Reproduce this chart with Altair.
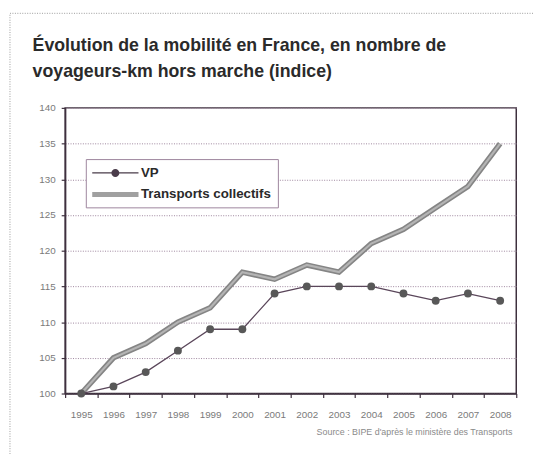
import altair as alt
import pandas as pd

years = list(range(1995, 2009))
vp = [100, 101, 103, 106, 109, 109, 114, 115, 115, 115, 114, 113, 114, 113]
tc = [100, 105, 107, 110, 112, 117, 116, 118, 117, 121, 123, 126, 129, 135]
series_names = ["VP", "Transports collectifs"]
y_ticks = [100, 105, 110, 115, 120, 125, 130, 135, 140]
title_lines = ["Évolution de la mobilité en France, en nombre de",
               "voyageurs-km hors marche (indice)"]
source_text = "Source : BIPE d'après le ministère des Transports"

rows = []
for y, a, b in zip(years, vp, tc):
    rows.append({"annee": y, "serie": series_names[0], "valeur": a})
    rows.append({"annee": y, "serie": series_names[1], "valeur": b})
df = pd.DataFrame(rows)

W, H = 458, 290
FONT = "Liberation Sans"
GRID = "#9c849c"
DARK = "#3e303e"

xscale = alt.Scale(domain=[years[0] - 0.5, years[-1] + 0.5], nice=False, zero=False)
yscale = alt.Scale(domain=[100, 140], nice=False, zero=False)

x_lab = alt.X("annee:Q", scale=xscale, title=None,
              axis=alt.Axis(orient="bottom", values=years, format="d", ticks=False, tickSize=0,
                            domain=False, grid=False, labelPadding=16, labelFontSize=10,
                            labelColor="#7a7a7a", labelFont=FONT, labelFlush=False,
                            labelOverlap=False))
y_enc = alt.Y("valeur:Q", scale=yscale, title=None,
              axis=alt.Axis(values=y_ticks, grid=True, gridColor=GRID, gridDash=[1, 1.5],
                            gridWidth=1, domain=True, domainColor=DARK, domainWidth=1.5,
                            ticks=True, tickSize=4, tickColor=DARK, tickWidth=1.2,
                            labelPadding=6, labelFontSize=10, labelColor="#7a7a7a",
                            labelFont=FONT))
x_plain = alt.X("annee:Q", scale=xscale, title=None, axis=None)

base = alt.Chart(df)

# boundary ticks on the x axis (empty layer carrying the tick axis)
tick_axis = base.transform_filter(alt.datum.serie == "none").mark_point(opacity=0).encode(
    x=alt.X("annee:Q", scale=xscale, title=None,
            axis=alt.Axis(orient="bottom", values=[y - 0.5 for y in years] + [years[-1] + 0.5],
                          labels=False, ticks=True, tickSize=4, tickColor=DARK, tickWidth=1.2,
                          domain=True, domainColor=DARK, domainWidth=1.5, grid=False)),
    y=y_enc)

tc_outer = base.transform_filter(alt.datum.serie == series_names[1]).mark_line(
    color="#858585", strokeWidth=5.5).encode(x=x_lab, y=y_enc)
tc_inner = base.transform_filter(alt.datum.serie == series_names[1]).mark_line(
    color="#b4b4b4", strokeWidth=2.2).encode(x=x_plain, y=y_enc)
vp_line = base.transform_filter(alt.datum.serie == series_names[0]).mark_line(
    color="#5a465a", strokeWidth=1.3).encode(x=x_plain, y=y_enc)
vp_pts = base.transform_filter(alt.datum.serie == series_names[0]).mark_point(
    filled=True, shape="circle", size=64, color="#585858", opacity=1).encode(
    x=x_plain, y=y_enc)

path_vp = ("M-3,-0.08H3V0.08H-3Z "
           "M-0.52,0A0.52,0.52 0 1,1 0.52,0A0.52,0.52 0 1,1 -0.52,0Z")
path_tc = "M-3,-0.33H3V0.33H-3Z"

leg = alt.Legend(title=None, orient="none", legendX=21, legendY=52,
                 symbolSize=245, symbolOffset=16, labelFont=FONT, labelFontSize=13.5,
                 labelFontWeight="bold", labelColor="#2a2a2a", strokeColor=GRID,
                 padding=6, rowPadding=7, labelOffset=18, symbolStrokeWidth=0,
                 symbolOpacity=1, fillColor="white")

legend_layer = base.transform_filter("false").mark_point(filled=True, opacity=1).encode(
    x=x_plain, y=y_enc,
    color=alt.Color("serie:N", scale=alt.Scale(domain=series_names, range=["#4a3c4a", "#a0a0a0"]),
                    legend=leg),
    shape=alt.Shape("serie:N", scale=alt.Scale(domain=series_names, range=[path_vp, path_tc]),
                    legend=leg))

frame = alt.Chart(pd.DataFrame({"k": [0]})).mark_rect(
    fill=None, stroke="#9a9a9a", strokeDash=[1, 1.5], strokeWidth=1).encode(
    x=alt.value(-56), x2=alt.value(W + 60), y=alt.value(-96), y2=alt.value(H + 120))

title1 = alt.Chart(pd.DataFrame({"t": [title_lines[0]]})).mark_text(
    align="left", baseline="middle", fontSize=18, font=FONT, fontWeight="bold",
    color="#2a2a2a").encode(text="t:N", x=alt.value(-33), y=alt.value(-63))
title2 = alt.Chart(pd.DataFrame({"t": [title_lines[1]]})).mark_text(
    align="left", baseline="middle", fontSize=18, font=FONT, fontWeight="bold",
    color="#2a2a2a").encode(text="t:N", x=alt.value(-33), y=alt.value(-36))

src = alt.Chart(pd.DataFrame({"t": [source_text]})).mark_text(
    align="right", baseline="middle", fontSize=9, font=FONT, color="#8a8a8a").encode(
    text="t:N", x=alt.value(W - 4), y=alt.value(H + 39))

chart = alt.layer(frame, tick_axis, tc_outer, tc_inner, vp_line, vp_pts, legend_layer,
                  title1, title2, src).resolve_axis(x="independent").properties(
    width=W, height=H,
    autosize=alt.AutoSizeParams(type="none"),
    padding={"left": 58, "top": 98, "right": 17, "bottom": 58},
).configure_view(stroke=DARK, strokeWidth=1.5)

chart.save("out.html", embed_options={"renderer": "svg", "actions": False})
